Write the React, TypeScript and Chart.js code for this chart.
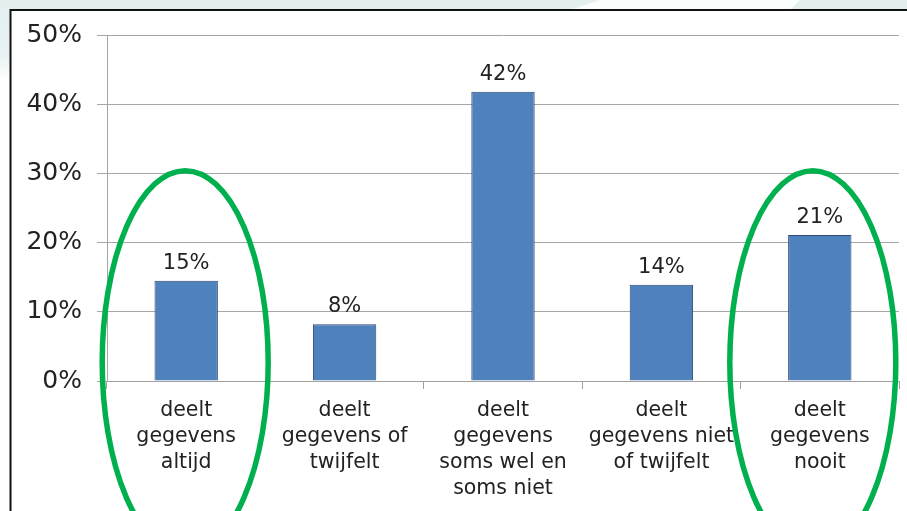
import React, { useEffect, useRef } from "react";
import { Chart, registerables } from "chart.js";

Chart.register(...registerables);

const categories: string[][] = [
  ["deelt", "gegevens", "altijd"],
  ["deelt", "gegevens of", "twijfelt"],
  ["deelt", "gegevens", "soms wel en", "soms niet"],
  ["deelt", "gegevens niet", "of twijfelt"],
  ["deelt", "gegevens", "nooit"],
];
const values: number[] = [14.5, 8.2, 41.8, 13.9, 21.1];
const valueLabels: string[] = ["15%", "8%", "42%", "14%", "21%"];
const highlighted: number[] = [0, 4];

const FONT = "'DejaVu Sans', Verdana, sans-serif";

const backgroundPlugin = {
  id: "slideBackground",
  beforeDraw(chart: any) {
    const ctx = chart.ctx as CanvasRenderingContext2D;
    const w = chart.width;
    const h = chart.height;
    ctx.save();
    ctx.fillStyle = "#ffffff";
    ctx.fillRect(0, 0, w, h);
    ctx.fillStyle = "#e3efef";
    ctx.fillRect(0, 0, w, 10);
    ctx.fillStyle = "#fbfdfd";
    ctx.beginPath();
    ctx.moveTo(600, 0);
    ctx.lineTo(800, 0);
    ctx.lineTo(790, 10);
    ctx.lineTo(570, 10);
    ctx.closePath();
    ctx.fill();
    const g = ctx.createLinearGradient(0, 0, 0, 80);
    g.addColorStop(0, "#e3efef");
    g.addColorStop(0.7, "#e8f2f2");
    g.addColorStop(1, "#ffffff");
    ctx.fillStyle = g;
    ctx.fillRect(0, 0, 10, 80);
    ctx.fillStyle = "#ffffff";
    ctx.fillRect(11, 11, w - 11, h - 11);
    ctx.strokeStyle = "#111111";
    ctx.lineWidth = 2;
    ctx.beginPath();
    ctx.moveTo(w, 10);
    ctx.lineTo(10.5, 10);
    ctx.lineTo(10.5, h);
    ctx.stroke();
    ctx.restore();
  },
};

const labelsPlugin = {
  id: "valueLabels",
  afterDatasetsDraw(chart: any) {
    const ctx = chart.ctx as CanvasRenderingContext2D;
    const meta = chart.getDatasetMeta(0);
    ctx.save();
    ctx.font = `21px ${FONT}`;
    ctx.fillStyle = "#222222";
    ctx.textAlign = "center";
    ctx.textBaseline = "alphabetic";
    meta.data.forEach((bar: any, i: number) => {
      ctx.fillText(valueLabels[i], bar.x, bar.y - 12);
    });
    ctx.restore();
  },
};

const ellipsePlugin = {
  id: "ellipses",
  afterDraw(chart: any) {
    const ctx = chart.ctx as CanvasRenderingContext2D;
    const xs = chart.scales.x;
    const ys = chart.scales.y;
    const top = ys.getPixelForValue(30.4);
    const cy = ys.getPixelForValue(2.7);
    const ry = cy - top;
    const offsets = [-1, -7];
    ctx.save();
    ctx.strokeStyle = "#00b04f";
    ctx.lineWidth = 5.5;
    highlighted.forEach((idx, k) => {
      const cx = xs.getPixelForValue(idx) + offsets[k];
      ctx.beginPath();
      ctx.ellipse(cx, cy, 83, ry, 0, 0, Math.PI * 2);
      ctx.stroke();
    });
    ctx.restore();
  },
};

export default function App() {
  const ref = useRef<HTMLCanvasElement | null>(null);

  useEffect(() => {
    if (!ref.current) return;
    const chart = new Chart(ref.current, {
      type: "bar",
      data: {
        labels: categories,
        datasets: [
          {
            data: values,
            backgroundColor: "#4f81bd",
            borderColor: "#2c4a74",
            borderWidth: 1,
            barPercentage: 0.4,
            categoryPercentage: 1,
          },
        ],
      },
      options: {
        responsive: false,
        animation: false,
        layout: { padding: { left: 0, right: 8, top: 35, bottom: 0 } },
        plugins: {
          legend: { display: false },
          tooltip: { enabled: false },
        },
        scales: {
          x: {
            offset: true,
            grid: {
              offset: true,
              drawOnChartArea: false,
              drawTicks: true,
              tickLength: 8,
              color: "#a0a0a0",
            },
            border: { color: "#a0a0a0", width: 1 },
            ticks: {
              color: "#222222",
              font: { family: FONT, size: 20.5, lineHeight: 26 / 20.5 },
              padding: 9,
              maxRotation: 0,
              autoSkip: false,
            },
            afterFit(scale: any) {
              scale.height = 130;
            },
          },
          y: {
            min: 0,
            max: 50,
            ticks: {
              stepSize: 10,
              color: "#222222",
              font: { family: FONT, size: 25 },
              padding: 15,
              callback: (v: any) => `${v}%`,
            },
            grid: { color: "#a6a6a6", tickLength: 10, lineWidth: 1 },
            border: { color: "#a6a6a6", width: 1 },
            afterFit(scale: any) {
              scale.width = 107;
            },
          },
        },
      },
      plugins: [backgroundPlugin, labelsPlugin, ellipsePlugin],
    });
    return () => chart.destroy();
  }, []);

  return (
    <div style={{ position: "fixed", left: 0, top: 0, width: 907, height: 511 }}>
      <canvas ref={ref} width={907} height={511} />
    </div>
  );
}
